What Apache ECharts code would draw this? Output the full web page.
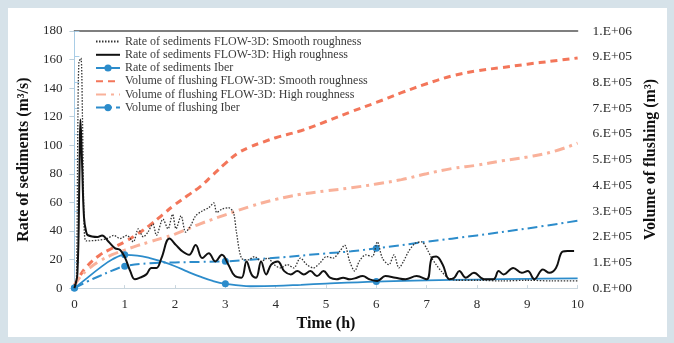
<!DOCTYPE html>
<html>
<head>
<meta charset="utf-8">
<script src="https://cdn.jsdelivr.net/npm/echarts@6/dist/echarts.min.js"></script>
<style>
html,body{margin:0;padding:0;background:#d6e2e9;width:674px;height:343px;overflow:hidden;}
#panel{position:absolute;left:8px;top:8px;width:659px;height:329px;background:#ffffff;}
#chart{width:659px;height:329px;}
</style>
</head>
<body>
<div id="panel"><div id="chart"></div></div>
<script>
// ---- data ----
var xTicks = [0,1,2,3,4,5,6,7,8,9,10];
var leftTicks = [0,20,40,60,80,100,120,140,160,180];

var seriesNames = [
  'Rate of sediments FLOW-3D: Smooth roughness',
  'Rate of sediments FLOW-3D: High roughness',
  'Rate of sediments Iber',
  'Volume of flushing FLOW-3D: Smooth roughness',
  'Volume of flushing FLOW-3D: High roughness',
  'Volume of flushing Iber'
];

// Rate of sediments FLOW-3D smooth roughness (m3/s)
var tSmoothRate = [0,0.04,0.07,0.09,0.13,0.16,0.19,0.23,0.46,0.65,0.78,0.91,1.04,1.17,1.27,1.37,1.46,1.56,1.63,1.76,1.86,1.95,2.02,2.12,2.21,2.31,2.41,2.54,2.67,2.77,2.83,2.93,3.06,3.16,3.22,3.32,3.45,3.58,3.71,3.84,3.97,4.1,4.23,4.36,4.49,4.62,4.75,4.88,5.01,5.14,5.27,5.37,5.47,5.57,5.66,5.79,5.92,6.02,6.12,6.25,6.35,6.45,6.54,6.64,6.77,6.9,7.0,7.1,7.19,7.29,7.42,7.6,8,8.5,9,9.5,10];
var vSmoothRate = [2,6,120,158,161,120,50,33,33.5,34.7,36.9,34.7,36.9,32.4,41.5,35.8,39.2,44.9,36.9,48.3,41.5,51.7,41.5,50.6,39.2,43.7,50.6,54,56.3,59.7,52.9,55.2,56.3,52.9,39.2,21,19.8,22.1,18.7,21,16.4,14.1,16.4,14.1,21,16.4,14.1,17.6,22.1,21,25.6,30.1,18.7,11.9,18.7,23.3,22.1,32.4,21,16.4,23.3,14.1,18.7,25.6,31.3,32.4,27.8,21,16.4,11.9,7.3,5.5,5.5,5,5.5,5,5];

// Rate of sediments FLOW-3D high roughness (m3/s)
var tHighRate = [0,0.06,0.1,0.12,0.15,0.19,0.23,0.27,0.46,0.55,0.68,0.81,0.91,1.01,1.11,1.2,1.3,1.43,1.53,1.63,1.73,1.89,2.02,2.15,2.28,2.41,2.54,2.67,2.8,2.93,3.06,3.19,3.32,3.42,3.52,3.61,3.71,3.81,3.91,4.04,4.17,4.3,4.43,4.56,4.69,4.82,4.95,5.08,5.21,5.34,5.47,5.57,5.73,5.86,6.02,6.18,6.38,6.58,6.8,7.0,7.1,7.19,7.32,7.45,7.55,7.65,7.78,7.94,8.14,8.33,8.43,8.53,8.72,8.89,9.01,9.14,9.31,9.44,9.57,9.7,9.8,9.93];
var vHighRate = [0,10,80,118,90,50,40,37,35.8,36.9,32.4,27.8,26.7,21,11.9,6.2,7.3,9.6,14.1,14.1,21,34.7,30.1,25.6,23.3,30.1,21,24.4,18.7,23.3,16.4,8.4,7.3,18.7,9.6,7.3,18.7,9.6,16.4,18.7,11.9,9.6,11.9,9.6,11.9,8.4,11.9,7.3,6.2,7.3,6.2,6.8,8.4,6.2,5,8.4,7.3,6.2,8.4,6.2,21,22.1,16.4,6.2,7.3,11.9,7.3,10.7,6.2,6.2,11.9,9.6,14.1,10.7,11.9,6.2,13,10.7,14.1,25.6,26,26];

// Rate of sediments Iber (m3/s); markers at 0,1,3,6 h
var tIberRate = [0,0.25,0.5,0.75,1,1.25,1.5,1.75,2,2.25,2.5,2.75,3,3.5,4,4.5,5,6,7,8,9,10];
var vIberRate = [0,7,14,20,23.3,22.8,21,18.5,15.3,11.5,8,5,3,1.3,1.5,2.3,3.2,4.6,5.4,6,6.5,6.8];
var markIberRate = [0,1,3,6];

// Volume of flushing FLOW-3D smooth roughness (m3)
var tSmoothVol = [0,0.1,0.25,0.5,0.75,1,1.25,1.5,1.75,2,2.25,2.5,2.75,3,3.25,3.5,3.75,4,4.5,5,5.5,6,6.5,7,7.5,8,8.5,9,9.5,10];
var vSmoothVol = [10000,45000,85000,128000,155000,180000,210000,245000,285000,325000,360000,395000,440000,485000,525000,550000,568000,585000,612000,648000,686000,722000,760000,795000,825000,845000,858000,871000,883000,895000];

// Volume of flushing FLOW-3D high roughness (m3)
var tHighVol = [0,0.1,0.25,0.5,0.75,1,1.25,1.5,1.75,2,2.5,3,3.5,4,4.5,5,5.5,6,6.5,7,7.5,8,8.5,9,9.5,10];
var vHighVol = [10000,40000,70000,105000,130000,148000,165000,180000,195000,210000,250000,285000,318000,345000,365000,378000,390000,405000,422000,445000,465000,478000,495000,510000,530000,564000];

// Volume of flushing Iber (m3); markers at 0,1,3,6 h
var tIberVol = [0,0.25,0.5,0.75,1,1.5,2,2.5,3,4,5,5.5,6,7,8,9,10];
var vIberVol = [0,25000,47000,68000,85000,97000,100000,102000,104000,118000,135000,143000,155000,180000,205000,232000,262000];
var markIberVol = [0,1,3,6];

// ---- build ----
function pairs(t, v){ return t.map(function(x,i){ return [x, v[i]]; }); }
function marked(t, v, marks){
  return t.map(function(x,i){
    return { value:[x, v[i]], symbol: marks.indexOf(x) >= 0 ? 'circle' : 'none' };
  });
}
function sci(v){
  if (v === 0) return '0.E+00';
  var e = Math.floor(Math.log10(v) + 1e-9);
  var m = Math.round(v / Math.pow(10, e));
  return m + '.E+' + (e < 10 ? '0' + e : e);
}

var serif = 'Liberation Serif, Times New Roman, serif';
var blue = '#2c8ccb';
var black = '#111111';
var orange = '#f3765a';
var lightOrange = '#f9b19a';

var hasMarker = [false, false, true, false, false, true];
var legendData = seriesNames.map(function(n, i){
  return hasMarker[i] ? { name: n } : { name: n, itemStyle: { opacity: 0 } };
});

var chart = echarts.init(document.getElementById('chart'), null, {renderer:'canvas'});
chart.setOption({
  animation: false,
  textStyle: { fontFamily: serif },
  grid: { left: 62, right: 85, top: 23, bottom: 43, containLabel: false },
  legend: {
    orient: 'vertical', left: 87, top: 27, padding: 0,
    itemWidth: 24, itemHeight: 9, itemGap: 0,
    textStyle: { fontFamily: serif, fontSize: 12, color: '#3a3a3a', lineHeight: 13.2 },
    data: legendData
  },
  xAxis: [{
    type: 'value', min: xTicks[0], max: xTicks[xTicks.length-1], interval: 1,
    name: 'Time (h)', nameLocation: 'middle', nameGap: 20,
    nameTextStyle: { fontFamily: serif, fontSize: 16, fontWeight: 'bold', color: '#111' },
    axisLine: { lineStyle: { color: '#c9d6de', width: 1 } },
    axisTick: { show: true, inside: true, length: 3, lineStyle: { color: '#c9d6de' } },
    axisLabel: { fontFamily: serif, fontSize: 13, color: '#2a2a2a', margin: 10 },
    splitLine: { show: false }
  }, {
    type: 'value', position: 'top', min: 0, max: 10,
    axisLine: { show: true, onZero: false, lineStyle: { color: '#555555', width: 1.5 } },
    axisTick: { show: false }, axisLabel: { show: false }, splitLine: { show: false }
  }],
  yAxis: [{
    type: 'value', min: leftTicks[0], max: leftTicks[leftTicks.length-1], interval: 20,
    name: 'Rate of sediments (m³/s)', nameLocation: 'middle', nameGap: 40, nameRotate: 90,
    nameTextStyle: { fontFamily: serif, fontSize: 16, fontWeight: 'bold', color: '#111' },
    axisLine: { show: true, lineStyle: { color: '#bccfdb' } },
    axisTick: { show: true, length: 5, lineStyle: { color: '#bccfdb' } },
    axisLabel: { fontFamily: serif, fontSize: 13, color: '#2a2a2a', margin: 12 },
    splitLine: { show: false }
  }, {
    type: 'value', min: 0, max: 1000000, interval: 100000, position: 'right',
    name: 'Volume of flushing (m³)', nameLocation: 'middle', nameGap: 56, nameRotate: 90,
    nameTextStyle: { fontFamily: serif, fontSize: 16, fontWeight: 'bold', color: '#111' },
    axisLine: { show: true, lineStyle: { color: '#a9cde6' } },
    axisTick: { show: true, length: 5, lineStyle: { color: '#a9cde6' } },
    axisLabel: { fontFamily: serif, fontSize: 13.5, color: '#2a2a2a', margin: 15, formatter: sci },
    splitLine: { show: false }
  }],
  series: [
    { name: seriesNames[3], type: 'line', yAxisIndex: 1, z: 2, smooth: 0.4,
      symbol: 'none', data: pairs(tSmoothVol, vSmoothVol),
      lineStyle: { color: orange, width: 3, type: [7, 5] }, itemStyle: { color: orange } },
    { name: seriesNames[4], type: 'line', yAxisIndex: 1, z: 2, smooth: 0.4,
      symbol: 'none', data: pairs(tHighVol, vHighVol),
      lineStyle: { color: lightOrange, width: 3, type: [10, 5, 3, 5] }, itemStyle: { color: lightOrange } },
    { name: seriesNames[5], type: 'line', yAxisIndex: 1, z: 3, smooth: 0.4,
      symbol: 'circle', symbolSize: 7, data: marked(tIberVol, vIberVol, markIberVol),
      lineStyle: { color: blue, width: 2, type: [10, 4, 2, 4] }, itemStyle: { color: blue } },
    { name: seriesNames[2], type: 'line', yAxisIndex: 0, z: 4, smooth: 0.4,
      symbol: 'circle', symbolSize: 7, data: marked(tIberRate, vIberRate, markIberRate),
      lineStyle: { color: blue, width: 1.8 }, itemStyle: { color: blue } },
    { name: seriesNames[0], type: 'line', yAxisIndex: 0, z: 5, smooth: 0.3,
      symbol: 'none', data: pairs(tSmoothRate, vSmoothRate),
      lineStyle: { color: '#333333', width: 1.3, type: [1.5, 1.5] }, itemStyle: { color: '#333333' } },
    { name: seriesNames[1], type: 'line', yAxisIndex: 0, z: 6, smooth: 0.4,
      symbol: 'none', data: pairs(tHighRate, vHighRate),
      lineStyle: { color: black, width: 2 }, itemStyle: { color: black } }
  ]
});
</script>
</body>
</html>
